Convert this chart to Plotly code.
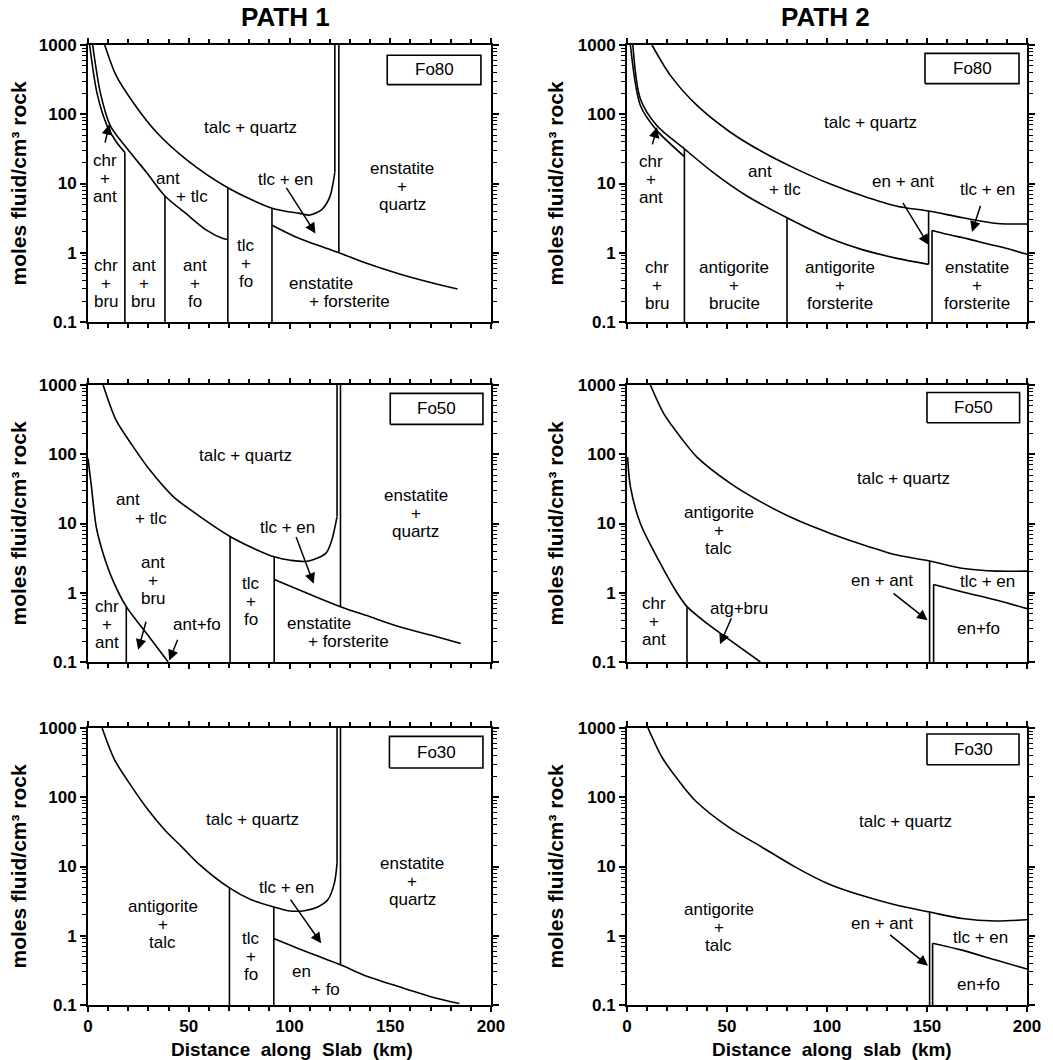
import math
import plotly.graph_objects as go

FONT = "Liberation Sans, Arial, Helvetica, sans-serif"

# ---------------- Panel 1 : PATH 1, Fo80 ----------------
P1_A_X = [8.3, 14, 22.4, 34, 49, 69.4, 91.3, 105, 110, 116, 120, 122.5]
P1_A_Y = [1000, 360, 148, 55, 22, 8.7, 4.4, 3.7, 3.5, 4.2, 6.4, 14.5]
P1_B_X = [91.3, 105, 124.5, 138.6, 155, 172, 183.4]
P1_B_Y = [2.5, 1.6, 1.0, 0.70, 0.49, 0.36, 0.30]
P1_C1_X = [0.8, 4.5, 9.5, 14, 18.3]
P1_C1_Y = [1000, 200, 68, 40, 28]
P1_C2_X = [2.3, 6.2, 11.1, 18.3, 29, 38.2, 49, 59, 67, 69.4]
P1_C2_Y = [1000, 200, 68, 35, 14.5, 6.6, 3.6, 2.1, 1.6, 1.55]
P1_V_X = [18.3, 38.2, 69.4, 91.3, 122.5, 124.5]
P1_V_LO = [0.1, 0.1, 0.1, 0.1, 14.5, 1.0]
P1_V_HI = [28, 6.6, 8.7, 4.4, 1000, 1000]
P1_LABELS = [("talc + quartz", 80.5, 65), ("chr<br>+<br>ant", 8.3, 12), ("ant", 39.8, 12),
             ("+ tlc", 51.5, 6.6), ("tlc + en", 98, 11.5), ("enstatite<br>+<br>quartz", 156, 9.1),
             ("chr<br>+<br>bru", 9.1, 0.36), ("ant<br>+<br>bru", 27.7, 0.36), ("ant<br>+<br>fo", 53, 0.36),
             ("tlc<br>+<br>fo", 78.5, 0.69), ("enstatite", 115.4, 0.36), ("+ forsterite", 130, 0.20)]
P1_ARROWS = [(8.3, 37, 10.6, 72), (98, 9.1, 112.9, 1.9)]
P1_BOX = (148.5, 195, 268, 710, "Fo80")

# ---------------- Panel 2 : PATH 2, Fo80 ----------------
P2_A_X = [12.5, 21.7, 35, 51.7, 68.3, 85, 101.7, 118, 135, 150.8, 168, 185, 200]
P2_A_Y = [1000, 364, 134, 55, 28, 16, 9.8, 6.6, 4.7, 4.0, 3.2, 2.65, 2.6]
P2_B_X = [152.5, 160, 170, 180, 190, 200]
P2_B_Y = [2.1, 1.85, 1.6, 1.35, 1.15, 0.95]
P2_C1_X = [1.7, 6.7, 15, 28.7]
P2_C1_Y = [1000, 134, 58, 24.5]
P2_C2_X = [2.9, 6.7, 15, 28.7, 43, 60, 80, 101.7, 118, 135, 150.8]
P2_C2_Y = [1000, 166, 68, 31.6, 14.5, 6.6, 3.2, 1.6, 1.1, 0.83, 0.68]
P2_V_X = [28.7, 80, 150.8, 152.5]
P2_V_LO = [0.1, 0.1, 0.68, 0.1]
P2_V_HI = [31.6, 3.2, 4.0, 2.1]
P2_LABELS = [("talc + quartz", 121.7, 76), ("chr<br>+<br>ant", 12, 11.5), ("ant", 66.7, 15),
             ("+ tlc", 79, 8.3), ("en + ant", 138, 10.7), ("tlc + en", 180, 8.1),
             ("chr<br>+<br>bru", 15, 0.34), ("antigorite<br>+<br>brucite", 53.7, 0.34),
             ("antigorite<br>+<br>forsterite", 106.7, 0.34), ("enstatite<br>+<br>forsterite", 175, 0.34)]
P2_ARROWS = [(12.5, 35, 15, 65), (137.5, 5.5, 150.8, 1.3), (177, 5.0, 172.5, 2.0)]
P2_BOX = (149, 196, 277, 758, "Fo80")

# ---------------- Panel 3 : PATH 1, Fo50 ----------------
P3_A_X = [7.5, 14, 22.4, 30.7, 42.3, 55.6, 70.5, 82, 92.4, 100.4, 108.7, 118, 121, 123.6]
P3_A_Y = [1000, 308, 129, 59, 24.5, 12.6, 6.5, 4.4, 3.3, 2.95, 2.85, 3.7, 5.8, 12.6]
P3_B_X = [92.4, 110, 125.3, 140, 155, 170, 185]
P3_B_Y = [1.55, 0.95, 0.63, 0.45, 0.32, 0.245, 0.185]
P3_C_X = [0, 1.7, 4.1, 7.5, 12.4, 19, 29, 39.8]
P3_C_Y = [87, 34, 8.9, 3.7, 1.5, 0.63, 0.26, 0.1]
P3_V_X = [19, 70.5, 92.4, 123.6, 125.3]
P3_V_LO = [0.1, 0.1, 0.1, 12.6, 0.63]
P3_V_HI = [0.63, 6.5, 3.3, 1000, 1000]
P3_LABELS = [("talc + quartz", 78, 97), ("ant", 20, 22), ("+ tlc", 31.5, 11.7),
             ("ant<br>+<br>bru", 32.4, 1.5), ("chr<br>+<br>ant", 9.5, 0.35), ("ant+fo", 54, 0.35),
             ("tlc<br>+<br>fo", 80.8, 0.74), ("tlc + en", 98.8, 8.9),
             ("enstatite<br>+<br>quartz", 162.7, 13.8), ("enstatite", 114.5, 0.355),
             ("+ forsterite", 129.5, 0.195)]
P3_ARROWS = [(29, 0.40, 24.9, 0.15), (44.8, 0.22, 40.3, 0.105), (103, 6.7, 112, 1.35)]
P3_BOX = (150, 196, 270, 758, "Fo50")

# ---------------- Panel 4 : PATH 2, Fo50 ----------------
P4_A_X = [11.7, 18.3, 26.7, 35, 51.7, 68.3, 85, 101.7, 118.3, 135, 151.3, 168.3, 185, 200]
P4_A_Y = [1000, 390, 178, 91, 38, 19.5, 11.2, 7.2, 4.9, 3.5, 2.87, 2.24, 2.05, 2.05]
P4_B_X = [153.3, 168.3, 185, 200]
P4_B_Y = [1.32, 1.02, 0.78, 0.59]
P4_C_X = [0.3, 1.7, 6.7, 15.8, 25, 30, 40, 49.2, 66.7]
P4_C_Y = [91, 34, 10, 2.95, 1.0, 0.63, 0.36, 0.23, 0.1]
P4_V_X = [30, 151.3, 153.3]
P4_V_LO = [0.1, 0.1, 0.1]
P4_V_HI = [0.63, 2.87, 1.32]
P4_LABELS = [("talc + quartz", 138.3, 45), ("antigorite<br>+<br>talc", 45.8, 7.9),
             ("chr<br>+<br>ant", 13.3, 0.38), ("atg+bru", 55.8, 0.59), ("en + ant", 127.5, 1.5),
             ("tlc + en", 180, 1.45), ("en+fo", 175.8, 0.30)]
P4_ARROWS = [(132.5, 1.02, 150.3, 0.40), (52.5, 0.45, 46.5, 0.18)]
P4_BOX = (150, 196.3, 285, 780, "Fo50")

# ---------------- Panel 5 : PATH 1, Fo30 ----------------
P5_A_X = [7, 13.2, 21.5, 29.8, 38, 46.3, 54.5, 70.2, 81, 92.2, 99.2, 107.4, 114, 119, 122.3, 123.6]
P5_A_Y = [1000, 347, 145, 66, 34, 19.5, 11.2, 4.9, 3.3, 2.6, 2.3, 2.3, 2.6, 3.3, 5.8, 11.2]
P5_B_X = [92.2, 104, 125.3, 137, 153.7, 170, 184.3]
P5_B_Y = [0.91, 0.66, 0.38, 0.27, 0.186, 0.132, 0.105]
P5_V_X = [70.2, 92.2, 123.6, 125.3]
P5_V_LO = [0.1, 0.1, 11.2, 0.38]
P5_V_HI = [4.9, 2.6, 1000, 1000]
P5_LABELS = [("talc + quartz", 81.8, 47), ("antigorite<br>+<br>talc", 37.2, 1.45),
             ("tlc<br>+<br>fo", 81, 0.50), ("tlc + en", 98.3, 4.9),
             ("enstatite<br>+<br>quartz", 161, 6.0), ("en", 105.8, 0.30), ("+ fo", 118, 0.166)]
P5_ARROWS = [(100, 3.5, 115.7, 0.78)]
P5_BOX = (149.6, 196, 265, 758, "Fo30")

# ---------------- Panel 6 : PATH 2, Fo30 ----------------
P6_A_X = [10.5, 17.5, 25.8, 34.2, 50.8, 67.5, 84.2, 100.8, 117.5, 134, 151.3, 167.5, 184, 200]
P6_A_Y = [1000, 378, 174, 89, 37, 19, 9.8, 5.6, 3.8, 2.8, 2.2, 1.77, 1.63, 1.7]
P6_B_X = [152.8, 167.5, 184, 200]
P6_B_Y = [0.78, 0.62, 0.45, 0.33]
P6_V_X = [151.3, 152.8]
P6_V_LO = [0.1, 0.1]
P6_V_HI = [2.2, 0.78]
P6_LABELS = [("talc + quartz", 139, 44), ("antigorite<br>+<br>talc", 45.8, 1.33),
             ("en + ant", 127.5, 1.48), ("tlc + en", 176.7, 0.95), ("en+fo", 175.8, 0.20)]
P6_ARROWS = [(130.8, 1.07, 150.5, 0.37)]
P6_BOX = (150, 196, 295, 820, "Fo30")

Y_TICKS = [0.1, 1, 10, 100, 1000]
Y_TICKTEXT = ["0.1", "1", "10", "100", "1000"]
X_TICKS = [0, 50, 100, 150, 200]

PANELS = [
    dict(curves=[(P1_A_X, P1_A_Y), (P1_B_X, P1_B_Y), (P1_C1_X, P1_C1_Y), (P1_C2_X, P1_C2_Y)],
         vx=P1_V_X, vlo=P1_V_LO, vhi=P1_V_HI, labels=P1_LABELS, arrows=P1_ARROWS, box=P1_BOX),
    dict(curves=[(P2_A_X, P2_A_Y), (P2_B_X, P2_B_Y), (P2_C1_X, P2_C1_Y), (P2_C2_X, P2_C2_Y)],
         vx=P2_V_X, vlo=P2_V_LO, vhi=P2_V_HI, labels=P2_LABELS, arrows=P2_ARROWS, box=P2_BOX),
    dict(curves=[(P3_A_X, P3_A_Y), (P3_B_X, P3_B_Y), (P3_C_X, P3_C_Y)],
         vx=P3_V_X, vlo=P3_V_LO, vhi=P3_V_HI, labels=P3_LABELS, arrows=P3_ARROWS, box=P3_BOX),
    dict(curves=[(P4_A_X, P4_A_Y), (P4_B_X, P4_B_Y), (P4_C_X, P4_C_Y)],
         vx=P4_V_X, vlo=P4_V_LO, vhi=P4_V_HI, labels=P4_LABELS, arrows=P4_ARROWS, box=P4_BOX),
    dict(curves=[(P5_A_X, P5_A_Y), (P5_B_X, P5_B_Y)],
         vx=P5_V_X, vlo=P5_V_LO, vhi=P5_V_HI, labels=P5_LABELS, arrows=P5_ARROWS, box=P5_BOX),
    dict(curves=[(P6_A_X, P6_A_Y), (P6_B_X, P6_B_Y)],
         vx=P6_V_X, vlo=P6_V_LO, vhi=P6_V_HI, labels=P6_LABELS, arrows=P6_ARROWS, box=P6_BOX),
]

W, H = 1053, 1060
X_DOM = [[88 / W, 491 / W], [627 / W, 1027 / W]]
ROWS_PX = [(45, 322), (385, 662), (728, 1005)]
Y_DOM = [[1 - b / H, 1 - t / H] for t, b in ROWS_PX]
LABEL_SIZE = 17
LINE_GAP = 18

fig = go.Figure()
annotations = []
LW = 1.6

for i, p in enumerate(PANELS):
    n = i + 1
    xr = "x" if n == 1 else f"x{n}"
    yr = "y" if n == 1 else f"y{n}"
    for cx, cy in p["curves"]:
        fig.add_trace(go.Scatter(x=cx, y=cy, mode="lines", xaxis=xr, yaxis=yr,
                                 line=dict(color="black", width=LW, shape="spline", smoothing=0.8),
                                 showlegend=False, hoverinfo="skip"))
    vx, vy = [], []
    for x, lo, hi in zip(p["vx"], p["vlo"], p["vhi"]):
        vx += [x, x, None]
        vy += [lo, hi, None]
    fig.add_trace(go.Scatter(x=vx, y=vy, mode="lines", xaxis=xr, yaxis=yr,
                             line=dict(color="black", width=LW), showlegend=False,
                             hoverinfo="skip", connectgaps=False))
    for txt, lx, ly in p["labels"]:
        parts = txt.split("<br>")
        k = len(parts)
        for j, part in enumerate(parts):
            annotations.append(dict(text=part, x=lx, y=math.log10(ly), xref=xr, yref=yr,
                                    showarrow=False, xanchor="center", yanchor="middle",
                                    yshift=((k - 1) / 2 - j) * LINE_GAP,
                                    font=dict(family=FONT, size=LABEL_SIZE, color="black")))
    bx0, bx1, by0, by1, btxt = p["box"]
    fig.add_trace(go.Scatter(x=[bx0, bx1, bx1, bx0, bx0], y=[by0, by0, by1, by1, by0],
                             mode="lines", xaxis=xr, yaxis=yr,
                             line=dict(color="black", width=LW), showlegend=False, hoverinfo="skip"))
    annotations.append(dict(text=btxt, x=(bx0 + bx1) / 2, y=(math.log10(by0) + math.log10(by1)) / 2,
                            xref=xr, yref=yr, showarrow=False, xanchor="center", yanchor="middle",
                            font=dict(family=FONT, size=17, color="black")))
    for tx, ty, hx, hy in p["arrows"]:
        annotations.append(dict(x=hx, y=math.log10(hy), ax=tx, ay=math.log10(ty),
                                xref=xr, yref=yr, axref=xr, ayref=yr, text="",
                                showarrow=True, arrowhead=2, arrowsize=1.4, arrowwidth=1.5,
                                arrowcolor="black", standoff=0))

    row, col = i // 2, i % 2
    xkey = "xaxis" if n == 1 else f"xaxis{n}"
    ykey = "yaxis" if n == 1 else f"yaxis{n}"
    fig.layout[xkey] = dict(domain=X_DOM[col], anchor=yr, range=[0, 200],
                            tickmode="array", tickvals=X_TICKS,
                            showticklabels=(row == 2),
                            tickfont=dict(family=FONT, size=17, color="black", weight="bold"),
                            ticks="outside", ticklen=5, tickwidth=1.5, tickcolor="black",
                            minor=dict(dtick=10, tick0=0, ticks="outside", ticklen=4,
                                       tickwidth=1.5, tickcolor="black", showgrid=False),
                            showline=True, linecolor="black", linewidth=2, mirror="ticks",
                            showgrid=False, zeroline=False, fixedrange=True)
    fig.layout[ykey] = dict(domain=Y_DOM[row], anchor=xr, type="log", range=[-1, 3],
                            tickmode="array", tickvals=Y_TICKS, ticktext=Y_TICKTEXT,
                            tickfont=dict(family=FONT, size=17, color="black", weight="bold"),
                            ticks="outside", ticklen=6, tickwidth=1.5, tickcolor="black",
                            minor=dict(tickmode="array",
                                       tickvals=[v * 10 ** d for d in range(-1, 3) for v in range(2, 10)],
                                       ticks="outside", ticklen=4, tickwidth=1.2,
                                       tickcolor="black", showgrid=False),
                            showline=True, linecolor="black", linewidth=2, mirror="ticks",
                            showgrid=False, zeroline=False, fixedrange=True)

NB = "\u00a0"
for txt, xc in (("PATH" + NB + "1", 285), ("PATH" + NB + "2", 825)):
    annotations.append(dict(text="<b>" + txt + "</b>", x=xc / W, y=1 - 17 / H, xref="paper",
                            yref="paper", xanchor="center", yanchor="middle", showarrow=False,
                            font=dict(family=FONT, size=26, color="black")))
for t, b in ROWS_PX:
    yc = 1 - (t + b) / 2 / H
    for xc in (18 / W, 555 / W):
        annotations.append(dict(text="<b>moles fluid/cm³ rock</b>", x=xc, y=yc, xref="paper",
                                yref="paper", showarrow=False, textangle=-90,
                                xanchor="center", yanchor="middle",
                                font=dict(family=FONT, size=21, color="black")))
for txt, xc in (("Distance" + NB * 2 + "along" + NB * 2 + "Slab" + NB * 2 + "(km)", 292),
                ("Distance" + NB * 2 + "along" + NB * 2 + "slab" + NB * 2 + "(km)", 832)):
    annotations.append(dict(text="<b>" + txt + "</b>", x=xc / W, y=1 - 1049 / H,
                            xref="paper", yref="paper", showarrow=False,
                            xanchor="center", yanchor="middle",
                            font=dict(family=FONT, size=19, color="black")))

fig.update_layout(width=W, height=H, margin=dict(l=0, r=0, t=0, b=0, autoexpand=False),
                  paper_bgcolor="white", plot_bgcolor="white", annotations=annotations,
                  font=dict(family=FONT, color="black"), showlegend=False)

fig.write_html("out.html", config={"displayModeBar": False},
               post_script="document.body.style.margin='0px';document.body.style.padding='0px';"
                           "document.body.style.overflow='hidden';"
                           "document.documentElement.style.overflow='hidden';")
